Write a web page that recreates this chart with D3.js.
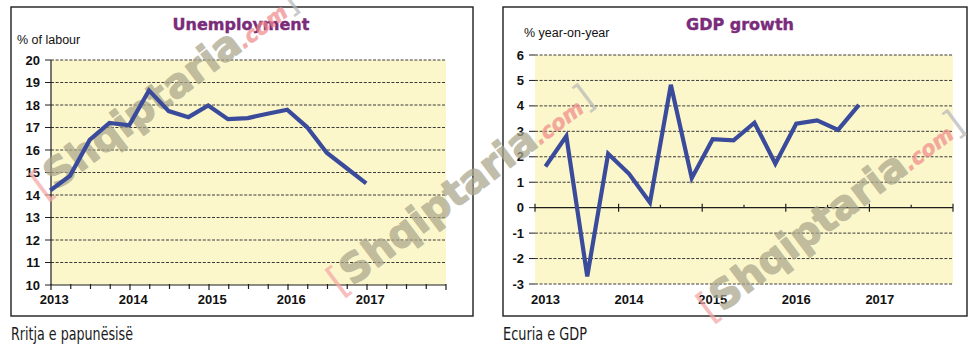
<!DOCTYPE html>
<html>
<head>
<meta charset="utf-8">
<script src="https://cdn.jsdelivr.net/npm/d3@7"></script>
<style>
  html, body { margin: 0; padding: 0; background: #ffffff; }
  svg { display: block; }
</style>
</head>
<body>
<svg id="chart" width="973" height="352"></svg>
<script>
// ---------- DATA ----------
const yearLabels = ["2013", "2014", "2015", "2016", "2017"];

const unempTitle = "Unemployment";
const unempUnit = "% of labour";
const unempCaption = "Rritja e papunësisë";
const unempPeriods = ["2013Q1","2013Q2","2013Q3","2013Q4","2014Q1","2014Q2","2014Q3","2014Q4",
                      "2015Q1","2015Q2","2015Q3","2015Q4","2016Q1","2016Q2","2016Q3","2016Q4","2017Q1"];
const unempValues = [14.2, 14.85, 16.45, 17.2, 17.1, 18.65, 17.73, 17.46,
                     17.98, 17.37, 17.42, 17.61, 17.79, 17.02, 15.88, 15.2, 14.52];
const unempTicks = [10, 11, 12, 13, 14, 15, 16, 17, 18, 19, 20];

const gdpTitle = "GDP growth";
const gdpUnit = "% year-on-year";
const gdpCaption = "Ecuria e GDP";
const gdpPeriods = ["2013Q1","2013Q2","2013Q3","2013Q4","2014Q1","2014Q2","2014Q3","2014Q4",
                    "2015Q1","2015Q2","2015Q3","2015Q4","2016Q1","2016Q2","2016Q3","2016Q4"];
const gdpValues = [1.62, 2.81, -2.70, 2.12, 1.33, 0.2, 4.83, 1.16,
                   2.69, 2.65, 3.34, 1.73, 3.30, 3.43, 3.06, 4.04];
const gdpTicks = [-3, -2, -1, 0, 1, 2, 3, 4, 5, 6];

const watermarkText = ["[", "Shqiptaria", ".com", "]"];

// ---------- STYLE ----------
const LINE_COLOR = "#3b4b9b";
const BG_COLOR = "#fcf7cb";
const TITLE_COLOR = "#7a2b7a";
const GRID_COLOR = "#3a3a3a";
const AXIS_COLOR = "#1e1e1e";

const svg = d3.select("#chart");

function periodToYear(p) {
  const y = +p.slice(0, 4);
  const q = +p.slice(5);
  return y + (q - 1) * 0.25;
}

function drawChart(cfg) {
  const g = svg.append("g");
  g.append("rect")
    .attr("x", cfg.frame[0]).attr("y", cfg.frame[1])
    .attr("width", cfg.frame[2]).attr("height", cfg.frame[3])
    .attr("fill", "#ffffff").attr("stroke", AXIS_COLOR).attr("stroke-width", 1.4);

  const x = d3.scaleLinear().domain([2013, 2018]).range([cfg.plot.x0, cfg.plot.x1]);
  const y = d3.scaleLinear().domain(cfg.yDomain).range([cfg.plot.y1, cfg.plot.y0]);

  g.append("rect")
    .attr("x", cfg.plot.x0).attr("y", cfg.plot.y0)
    .attr("width", cfg.plot.x1 - cfg.plot.x0).attr("height", cfg.plot.y1 - cfg.plot.y0)
    .attr("fill", BG_COLOR);

  const gridTicks = cfg.ticks.filter(t => t !== cfg.axisValue);
  g.selectAll(".grid").data(gridTicks).enter().append("line")
    .attr("x1", cfg.plot.x0).attr("x2", cfg.plot.x1)
    .attr("y1", d => y(d)).attr("y2", d => y(d))
    .attr("stroke", GRID_COLOR).attr("stroke-width", 1)
    .attr("stroke-dasharray", "3,1.6");
  g.selectAll(".ytick").data(cfg.ticks).enter().append("line")
    .attr("x1", cfg.plot.x0 - 6).attr("x2", cfg.plot.x0)
    .attr("y1", d => y(d)).attr("y2", d => y(d))
    .attr("stroke", AXIS_COLOR).attr("stroke-width", 1);

  if (cfg.yAxisLine) {
    g.append("line")
      .attr("x1", cfg.plot.x0).attr("x2", cfg.plot.x0)
      .attr("y1", cfg.plot.y0).attr("y2", cfg.plot.y1)
      .attr("stroke", AXIS_COLOR).attr("stroke-width", 1.2);
  }

  const ya = y(cfg.axisValue);
  g.append("line")
    .attr("x1", cfg.plot.x0).attr("x2", cfg.plot.x1)
    .attr("y1", ya).attr("y2", ya)
    .attr("stroke", AXIS_COLOR).attr("stroke-width", 1.2);

  const minorT = d3.range(2013, 2018.001, cfg.minorStep);
  g.selectAll(".xtick").data(minorT).enter().append("line")
    .attr("x1", d => x(d)).attr("x2", d => x(d))
    .attr("y1", d => Math.abs(d - Math.round(d)) < 1e-6 ? ya - cfg.majorUp : ya - cfg.minorUp)
    .attr("y2", d => Math.abs(d - Math.round(d)) < 1e-6 ? ya + cfg.majorDown : ya + cfg.minorDown)
    .attr("stroke", AXIS_COLOR).attr("stroke-width", 1.2);

  g.selectAll(".ylab").data(cfg.ticks).enter().append("text")
    .attr("x", cfg.plot.x0 - 11).attr("y", d => y(d) + 4.6)
    .attr("text-anchor", "end")
    .attr("font-family", "Liberation Sans, Arial, sans-serif")
    .attr("font-weight", "bold").attr("font-size", 13).attr("fill", "#111")
    .text(d => d);

  g.selectAll(".xlab").data(yearLabels).enter().append("text")
    .attr("x", d => x(+d + cfg.labelOffset)).attr("y", 304)
    .attr("text-anchor", "middle")
    .attr("font-family", "Liberation Sans, Arial, sans-serif")
    .attr("font-weight", "bold").attr("font-size", 13).attr("fill", "#111")
    .text(d => d);

  g.append("text")
    .attr("x", cfg.unitX).attr("y", cfg.unitY)
    .attr("font-family", "Liberation Sans, Arial, sans-serif")
    .attr("font-size", 12.5).attr("fill", "#111")
    .text(cfg.unit);

  g.append("text")
    .attr("x", cfg.titleX).attr("y", 30)
    .attr("text-anchor", "middle")
    .attr("font-family", "DejaVu Sans, Verdana, sans-serif")
    .attr("font-weight", "bold").attr("font-size", 16).attr("fill", TITLE_COLOR)
    .attr("stroke", TITLE_COLOR).attr("stroke-width", 0.4)
    .text(cfg.title);

  g.append("text")
    .attr("x", cfg.captionX).attr("y", 340)
    .attr("font-family", "Liberation Sans Narrow, DejaVu Sans Condensed, Arial, sans-serif")
    .attr("font-size", 17).attr("fill", "#1a1a1a")
    .attr("textLength", cfg.captionLen).attr("lengthAdjust", "spacingAndGlyphs")
    .text(cfg.caption);

  return { g, x, y };
}

function drawWatermark(px, py) {
  const wg = svg.append("g").attr("opacity", 0.72);
  const t = wg.append("text")
    .attr("transform", `translate(${px},${py}) rotate(-37)`)
    .attr("font-family", "DejaVu Sans, Verdana, sans-serif")
    .attr("font-weight", "bold")
    .attr("stroke-linejoin", "round");
  t.append("tspan").attr("font-size", 40).attr("font-weight", "normal")
    .attr("fill", "#f4a6a6").text(watermarkText[0]);
  t.append("tspan").attr("font-size", 40)
    .attr("fill", "#a9a68b").attr("stroke", "#a9a68b").attr("stroke-width", 1.3)
    .text(watermarkText[1]);
  t.append("tspan").attr("font-size", 21).attr("font-style", "italic")
    .attr("fill", "#f08a8a").attr("stroke", "#f08a8a").attr("stroke-width", 0.6)
    .text(watermarkText[2]);
  t.append("tspan").attr("font-size", 36).attr("font-weight", "normal")
    .attr("fill", "#b8b8b8").text(watermarkText[3]);
}

function drawLine(c, periods, values, offset) {
  const data = periods.map((p, i) => ({ t: periodToYear(p) + offset, v: values[i] }));
  const line = d3.line().x(d => c.x(d.t)).y(d => c.y(d.v)).curve(d3.curveLinear);
  svg.append("path").datum(data)
    .attr("d", line)
    .attr("fill", "none").attr("stroke", LINE_COLOR)
    .attr("stroke-width", 4.2).attr("stroke-linejoin", "miter").attr("stroke-linecap", "butt");
}

const c1 = drawChart({
  frame: [11, 7, 462, 309],
  plot: { x0: 51, x1: 446, y0: 60, y1: 285 },
  yDomain: [10, 20], ticks: unempTicks, axisValue: 10, yAxisLine: true,
  minorStep: 0.25, majorUp: 1, majorDown: 5, minorUp: 1, minorDown: 4,
  labelOffset: 0.04,
  unit: unempUnit, unitX: 17, unitY: 44,
  title: unempTitle, titleX: 241,
  caption: unempCaption, captionX: 11, captionLen: 122
});

const c2 = drawChart({
  frame: [503, 7, 464, 309],
  plot: { x0: 535, x1: 953, y0: 55, y1: 284 },
  yDomain: [-3, 6], ticks: gdpTicks, axisValue: 0, yAxisLine: false,
  minorStep: 0.5, majorUp: 4, majorDown: 4, minorUp: 3, minorDown: 0,
  labelOffset: 0.125,
  unit: gdpUnit, unitX: 524, unitY: 37,
  title: gdpTitle, titleX: 740,
  caption: gdpCaption, captionX: 503, captionLen: 84
});

drawWatermark(44, 200);
drawWatermark(340, 296);
drawWatermark(710, 322);

drawLine(c1, unempPeriods, unempValues, -0.01);
drawLine(c2, gdpPeriods, gdpValues, 0.125);
</script>
</body>
</html>
